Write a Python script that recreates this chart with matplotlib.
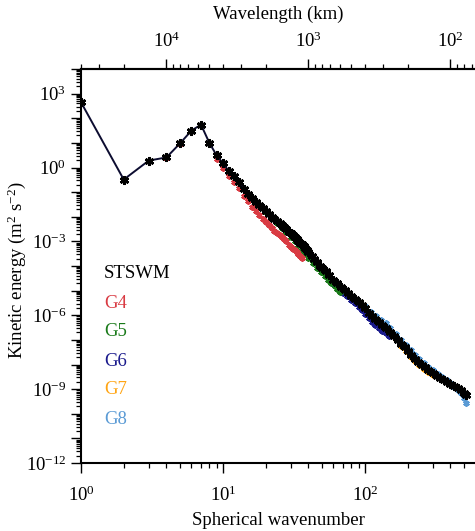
import numpy as np
import matplotlib
matplotlib.use("Agg")
import matplotlib.pyplot as plt
from matplotlib.ticker import FixedLocator, FuncFormatter, LogLocator, NullFormatter

plt.rcParams['font.family'] = ['Liberation Serif', 'DejaVu Serif']
plt.rcParams['mathtext.fontset'] = 'custom'
plt.rcParams['mathtext.rm'] = 'Liberation Serif'
plt.rcParams['mathtext.it'] = 'Liberation Serif:italic'
plt.rcParams['mathtext.default'] = 'regular'

# ---------------- data (log10 of kinetic energy) ----------------
n_stswm = [1, 2, 3, 4, 5, 6, 7, 8, 9, 10, 11, 12, 13, 14, 15, 16, 17, 18, 19, 20,
           21, 22, 23, 24, 25, 26, 27, 28, 29, 30, 31, 32, 33, 34, 35, 36, 37, 38, 39, 40,
           42, 44, 46, 48, 50, 53, 56, 60, 64, 68, 72, 76, 80, 85, 90, 95, 100,
           106, 112, 118, 125, 132, 140, 150, 160, 170, 180, 190, 200, 212, 225, 238,
           250, 265, 280, 300, 320, 340, 360, 380, 400, 425, 450, 475, 500, 512]
loge_stswm = [2.65, -0.49, 0.28, 0.41, 0.99, 1.50, 1.74, 1.01, 0.50, 0.17,
              -0.15, -0.36, -0.57, -0.86, -1.06, -1.25, -1.40, -1.52, -1.66, -1.78,
              -1.90, -1.99, -2.08, -2.16, -2.27, -2.35, -2.42, -2.51, -2.60, -2.68,
              -2.74, -2.82, -2.90, -2.97, -3.05, -3.12, -3.20, -3.27, -3.36, -3.43,
              -3.58, -3.72, -3.85, -3.98, -4.08, -4.22, -4.38, -4.55, -4.70, -4.84,
              -4.96, -5.08, -5.20, -5.34, -5.48, -5.60, -5.72,
              -5.90, -6.05, -6.16, -6.28, -6.38, -6.50, -6.66, -6.84, -7.00, -7.15,
              -7.30, -7.45, -7.60, -7.76, -7.90, -8.00, -8.12, -8.24, -8.36, -8.46,
              -8.56, -8.64, -8.72, -8.80, -8.88, -8.96, -9.05, -9.15, -9.22]

n_g4 = list(range(1, 37))
loge_g4 = [2.65, -0.50, 0.25, 0.38, 0.97, 1.48, 1.72, 0.98, 0.35, 0.00,
           -0.35, -0.60, -0.85, -1.15, -1.38, -1.60, -1.78, -1.93, -2.08, -2.22,
           -2.35, -2.46, -2.56, -2.65, -2.75, -2.84, -2.92, -3.00, -3.15, -3.22,
           -3.30, -3.36, -3.44, -3.52, -3.60, -3.68]

n_g5 = [20, 22, 24, 26, 28, 30, 32, 34, 36, 38, 40, 43, 46, 49, 52, 55, 58, 61, 64, 67]
loge_g5 = [-1.82, -2.04, -2.24, -2.44, -2.62, -2.82, -2.98, -3.14, -3.35, -3.52,
           -3.68, -3.88, -4.08, -4.25, -4.42, -4.56, -4.70, -4.83, -4.95, -5.05]

n_g6 = [50, 55, 60, 65, 70, 75, 80, 85, 90, 95, 100, 106, 112, 118, 125, 132, 140, 148]
loge_g6 = [-4.25, -4.50, -4.72, -4.90, -5.08, -5.23, -5.38, -5.52, -5.66, -5.80,
           -5.94, -6.12, -6.28, -6.40, -6.52, -6.62, -6.72, -6.85]

n_g7 = [150, 165, 180, 195, 210, 225, 240, 260, 280, 300]
loge_g7 = [-6.70, -6.98, -7.25, -7.47, -7.68, -7.86, -8.02, -8.18, -8.30, -8.42]

n_g8 = [100, 110, 120, 130, 140, 150, 165, 180, 195, 210, 225, 240, 260, 280, 300,
        325, 350, 375, 400, 425, 450, 475, 500, 512]
loge_g8 = [-5.62, -5.85, -6.02, -6.18, -6.32, -6.50, -6.76, -7.00, -7.20, -7.42,
           -7.60, -7.76, -7.94, -8.10, -8.24, -8.38, -8.52, -8.64, -8.76, -8.90,
           -9.02, -9.15, -9.38, -9.58]

labels = ['STSWM', 'G4', 'G5', 'G6', 'G7', 'G8']
colors = ['#000000', '#d93b43', '#1a7a1a', '#1a1a8c', '#ffa514', '#5b9bd5']
top_ticks_km = [1e4, 1e3, 1e2]

# ---------------- figure ----------------
fig = plt.figure(figsize=(4.75, 5.31), dpi=100)
ax = fig.add_axes([81 / 475, 68 / 531, 394.5 / 475, 394 / 531])

series = [(n_g8, loge_g8, colors[5]), (n_g7, loge_g7, colors[4]),
          (n_g6, loge_g6, colors[3]), (n_g5, loge_g5, colors[2]),
          (n_g4, loge_g4, colors[1])]
for n, le, c in series:
    ax.plot(n, 10.0 ** np.array(le), linestyle='none', marker=(6, 2, 0),
            markersize=4.5, mew=1.4, color=c, zorder=2)

ax.plot(n_stswm, 10.0 ** np.array(loge_stswm), color='#0c0c30', lw=1.4,
        marker=(6, 2, 0), markersize=6.5, mew=1.9, mec='#000000', zorder=3)

ax.set_xscale('log')
ax.set_yscale('log')
ax.set_xlim(1, 600)
ax.set_ylim(1e-12, 1e4)

ax.yaxis.set_major_locator(FixedLocator([10.0 ** k for k in range(-12, 5)]))
ax.yaxis.set_major_formatter(FuncFormatter(
    lambda v, p: (r'$10^{%d}$' % round(np.log10(v))) if round(np.log10(v)) % 3 == 0 and round(np.log10(v)) <= 3 else ''))
ax.yaxis.set_minor_locator(LogLocator(base=10, subs=np.arange(2, 10), numticks=200))
ax.yaxis.set_minor_formatter(NullFormatter())

for s in ['left', 'bottom', 'top']:
    ax.spines[s].set_linewidth(1.5)
ax.spines['right'].set_visible(False)
ax.tick_params(which='major', direction='out', length=7, width=1.0, labelsize=13.5)
ax.tick_params(which='minor', direction='out', length=3.6, width=0.9)
ax.tick_params(axis='x', which='both', top=False)
ax.tick_params(axis='x', which='major', pad=9)

ax.set_xlabel('Spherical wavenumber', fontsize=13.5, labelpad=5)
ax.set_ylabel(r'Kinetic energy (m$^2$ s$^{-2}$)', fontsize=13.5)
ax.yaxis.set_label_coords(-53 / 394.5, 0.49)

sec = ax.secondary_xaxis('top', functions=(lambda x: 40000.0 / x, lambda x: 40000.0 / x))
sec.xaxis.set_major_locator(FixedLocator(top_ticks_km))
sec.xaxis.set_major_formatter(FuncFormatter(lambda v, p: r'$10^{%d}$' % round(np.log10(v))))
sec.tick_params(which='major', direction='out', length=7, width=1.0, labelsize=13.5, pad=6)
sec.tick_params(which='minor', direction='out', length=3.6, width=0.9)
sec.xaxis.set_minor_formatter(NullFormatter())
sec.set_xlabel('Wavelength (km)', fontsize=13.5, labelpad=9)
sec.spines['top'].set_linewidth(1.5)

ys = [274, 303, 332, 361, 390, 419]
for lab, c, y in zip(labels, colors, ys):
    fig.text(104 / 475, 1 - y / 531, lab, color=c, fontsize=13.5, va='center', ha='left')

fig.savefig('out.png', dpi=100)
